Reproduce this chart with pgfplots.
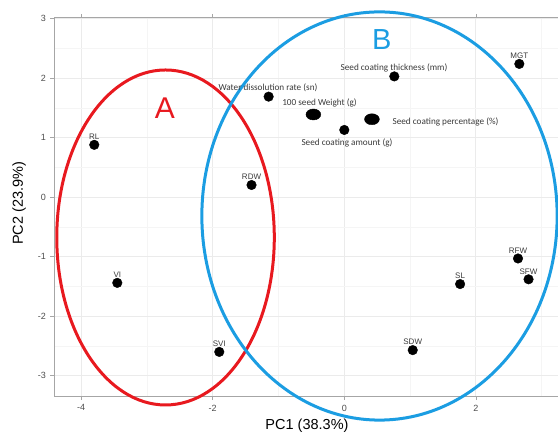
\documentclass[border=0pt]{standalone}
\usepackage{pgfplots}
\pgfplotsset{compat=1.18}
\usepackage{fontspec}
\setmainfont{Liberation Sans}
\newfontfamily\calib{Carlito}
\definecolor{ellred}{HTML}{E8191F}
\definecolor{ellblue}{HTML}{1B9DE2}
\definecolor{tickgray}{HTML}{4D4D4D}
\definecolor{lblgray}{HTML}{3A3A3A}

\pgfplotstableread{
x y label
-3.80 0.88 RL
-1.41 0.205 RDW
-3.45 -1.44 VI
-1.90 -2.60 SVI
1.04 -2.57 SDW
1.76 -1.46 SL
2.64 -1.03 RFW
2.80 -1.38 SFW
2.66 2.24 MGT
}\ggpoints

\pgfplotstableread{
x y
-1.15 1.69
0.76 2.03
0.00 1.13
}\wordpoints

\pgfplotstableread{
x y
-0.47 1.39
0.42 1.31
}\bigpoints

\begin{document}
\begin{tikzpicture}[x=1pt,y=1pt]
\path[use as bounding box] (0,0) rectangle (558,432);
\begin{axis}[
  at={(54pt,35.3pt)}, anchor=south west,
  scale only axis, width=506pt, height=379.2pt,
  xmin=-4.412, xmax=3.278, ymin=-3.353, ymax=3.02,
  xtick={-4,-2,0,2}, xticklabels={-4,-2,0,2},
  ytick={-3,-2,-1,0,1,2,3}, yticklabels={-3,-2,-1,0,1,2,3},
  minor xtick={-3,-1,1,3}, minor ytick={-2.5,-1.5,-0.5,0.5,1.5,2.5},
  grid=both,
  major grid style={color=black!8, line width=0.9pt},
  minor grid style={color=black!4, line width=0.5pt},
  axis line style={draw=black!35, line width=0.8pt},
  tick style={draw=black!35, line width=0.8pt},
  tick align=outside, major tick length=3.5pt, minor tick length=0pt,
  ticklabel style={font=\fontsize{9}{10}\selectfont, text=tickgray},
  xticklabel style={yshift=-1pt},
  yticklabel style={xshift=-1pt},
  clip=false,
  xlabel={PC1 (38.3\%)}, ylabel={PC2 (23.9\%)},
  every axis x label/.style={at={(axis description cs:0.5,-0.0765)}, anchor=center, font=\fontsize{14.5}{16}\selectfont},
  every axis y label/.style={at={(axis description cs:-0.0688,0.51)}, anchor=center, rotate=90, font=\fontsize{14.5}{16}\selectfont},
]
% ellipses
\draw[ellred, line width=3pt] (axis cs:-2.717,-0.677) ellipse [x radius=1.653, y radius=2.815];
\draw[ellblue, line width=3pt] (axis cs:0.535,-0.316) ellipse [x radius=2.70, y radius=3.43];
\node[text=ellred, font=\fontsize{30}{30}\selectfont] at (axis cs:-2.725,1.50) {A};
\node[text=ellblue, font=\fontsize{29}{30}\selectfont] at (axis cs:0.568,2.643) {B};

% points
\addplot[only marks, mark=*, mark size=4.8pt, black,
  nodes near coords, point meta=explicit symbolic,
  every node near coord/.append style={font=\fontsize{8}{8}\selectfont, text=lblgray, anchor=south, inner sep=0pt, yshift=5pt}]
  table[x=x, y=y, meta=label] {\ggpoints};
\addplot[only marks, mark=*, mark size=4.8pt, black] table[x=x, y=y] {\wordpoints};
\addplot[only marks, mark=*, mark size=5.5pt, black, every mark/.append style={xscale=1.35}] table[x=x, y=y] {\bigpoints};

% manually added labels
\node[font=\calib\fontsize{9.2}{10}\selectfont, text=lblgray] at (axis cs:-1.16,1.835) {Water dissolution rate (sn)};
\node[font=\calib\fontsize{9.2}{10}\selectfont, text=lblgray] at (axis cs:0.755,2.17) {Seed coating thickness (mm)};
\node[font=\calib\fontsize{9.2}{10}\selectfont, text=lblgray] at (axis cs:-0.377,1.583) {100 seed Weight (g)};
\node[font=\calib\fontsize{9.2}{10}\selectfont, text=lblgray] at (axis cs:1.538,1.264) {Seed coating percentage (\%)};
\node[font=\calib\fontsize{9.2}{10}\selectfont, text=lblgray] at (axis cs:0.041,0.911) {Seed coating amount (g)};
\end{axis}
\end{tikzpicture}
\end{document}
